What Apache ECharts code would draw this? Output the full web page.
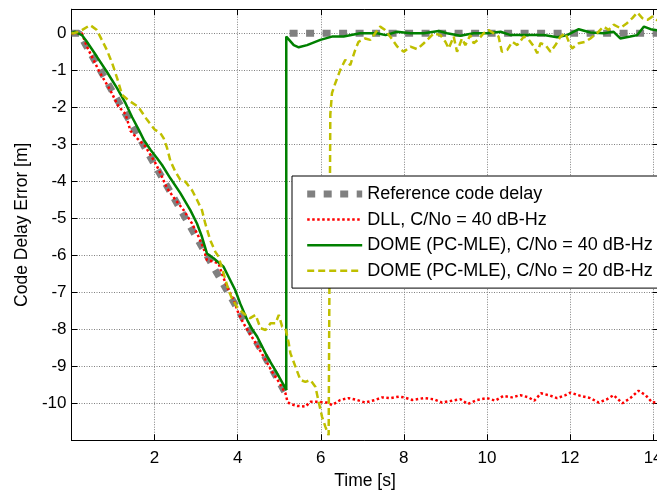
<!DOCTYPE html>
<html>
<head>
<meta charset="utf-8">
<script src="https://cdn.jsdelivr.net/npm/echarts@6/dist/echarts.min.js"></script>
<style>
  html, body { margin: 0; padding: 0; background: #fff; }
  #chart { width: 657px; height: 490px; }
</style>
</head>
<body>
<div id="chart"></div>
<script>
// Series names (legend order)
const seriesNames = [
  'Reference code delay',
  'DLL, C/No = 40 dB-Hz',
  'DOME (PC-MLE), C/No = 40 dB-Hz',
  'DOME (PC-MLE), C/No = 20 dB-Hz'
];

// Reference code delay [m] vs time [s]; null splits the ramp from the reset
const refTime  = [0, 0.18, 0.5, 1.0, 1.5, 2.0, 2.5, 3.0, 3.5, 4.0, 4.5, 5.15, 5.2, 5.25, 14.15];
const refDelay = [0, 0, -0.62, -1.6, -2.56, -3.55, -4.52, -5.5, -6.48, -7.45, -8.43, -9.72, null, 0, 0];

// DLL, C/No = 40 dB-Hz
const dllTime = [0, 0.25, 0.37, 0.69, 0.93, 1.13, 1.3, 1.42, 1.58, 1.78, 2.02, 2.14, 2.30, 2.50, 2.70, 2.90,
  3.06, 3.18, 3.26, 3.42, 3.54, 3.62, 3.74, 3.9, 4.02, 4.14, 4.26, 4.46, 4.67, 4.83, 4.99, 5.15, 5.2,
  5.27, 5.43, 5.63, 5.75, 5.95, 6.15, 6.27, 6.47, 6.67, 6.87, 7.07, 7.31, 7.48, 7.68, 7.88, 8.0, 8.2,
  8.48, 8.72, 8.92, 9.16, 9.36, 9.54, 9.76, 10.0, 10.2, 10.4, 10.6, 10.8, 11.0, 11.14, 11.3, 11.49,
  11.69, 11.89, 12.01, 12.25, 12.49, 12.69, 12.89, 13.05, 13.26, 13.45, 13.65, 13.82, 13.98, 14.15];
const dllDelay = [0, 0, -0.36, -1.08, -1.53, -1.98, -2.18, -2.64, -2.84, -3.06, -3.51, -3.78, -4.19, -4.5, -4.78, -5.14,
  -5.5, -5.81, -6.13, -6.17, -6.22, -6.49, -6.85, -7.2, -7.57, -7.84, -8.06, -8.42, -8.83, -9.15, -9.42, -9.73, -9.96,
  -10.02, -10.07, -10.09, -9.96, -9.96, -9.98, -10.05, -9.91, -9.86, -9.91, -9.98, -9.91, -9.84, -9.86, -9.82, -9.84, -9.91,
  -9.86, -9.89, -9.98, -9.93, -9.89, -10.02, -9.91, -9.86, -9.93, -9.8, -9.84, -9.78, -9.84, -9.93, -9.73, -9.78,
  -9.86, -9.78, -9.71, -9.8, -9.86, -9.98, -9.89, -9.78, -10.0, -9.86, -9.66, -9.78, -9.98, -9.96];

// DOME (PC-MLE), C/No = 40 dB-Hz
const dome40Time = [0, 0.09, 0.25, 0.37, 0.61, 0.85, 1.1, 1.3, 1.46, 1.62, 1.74, 1.9, 2.06, 2.18, 2.38, 2.62,
  2.86, 3.02, 3.14, 3.26, 3.42, 3.66, 3.78, 3.94, 4.06, 4.23, 4.35, 4.47, 4.71, 4.95, 5.17,
  5.17, 5.35, 5.47, 5.67, 5.99, 6.27, 6.55, 6.95, 7.36, 7.56, 7.84, 8.16, 8.48, 8.84, 9.04, 9.36,
  9.68, 10.0, 10.33, 10.57, 10.97, 11.37, 11.69, 11.93, 12.21, 12.49, 12.81, 13.05, 13.21, 13.45,
  13.62, 13.78, 13.94, 14.15];
const dome40Delay = [0, 0.04, -0.05, -0.23, -0.63, -1.04, -1.49, -1.89, -2.27, -2.61, -2.88, -3.15, -3.38, -3.56, -3.92, -4.32,
  -4.78, -5.14, -5.5, -5.95, -6.08, -6.31, -6.58, -6.94, -7.3, -7.75, -8.0, -8.2, -8.74, -9.19, -9.64,
  -0.09, -0.32, -0.38, -0.32, -0.18, -0.09, -0.09, 0, 0, -0.05, 0.04, 0, 0, 0.06, 0, -0.07,
  0, 0, 0.04, -0.05, -0.05, -0.05, -0.11, -0.05, 0.11, 0.02, 0, 0.04, -0.14, -0.09,
  -0.05, 0.18, 0.11, 0.07];

// DOME (PC-MLE), C/No = 20 dB-Hz
const dome20Time = [0, 0.05, 0.2, 0.45, 0.61, 0.73, 0.85, 0.98, 1.1, 1.22, 1.38, 1.6, 1.82, 2.0, 2.14, 2.22,
  2.3, 2.38, 2.5, 2.62, 2.74, 2.9, 3.02, 3.14, 3.22, 3.34, 3.46, 3.54, 3.66, 3.78, 3.86, 3.98,
  4.14, 4.3, 4.43, 4.55, 4.67, 4.79, 4.91, 4.99, 5.07, 5.15, 5.23, 5.27, 5.39, 5.51, 5.63, 5.75,
  5.87, 5.95, 6.03, 6.11, 6.19, 6.21, 6.23, 6.27, 6.35, 6.47, 6.59, 6.71, 6.83, 6.91, 7.07, 7.19,
  7.31, 7.43, 7.55, 7.67, 7.84, 8.0, 8.16, 8.32, 8.48, 8.6, 8.72, 8.88, 9.0, 9.08, 9.2, 9.28,
  9.4, 9.48, 9.6, 9.68, 9.8, 9.92, 10.04, 10.16, 10.28, 10.36, 10.49, 10.61, 10.73, 10.89, 11.01,
  11.13, 11.21, 11.29, 11.41, 11.53, 11.65, 11.77, 11.89, 11.97, 12.05, 12.21, 12.37, 12.49, 12.65,
  12.81, 12.93, 13.05, 13.21, 13.37, 13.5, 13.62, 13.74, 13.86, 13.98, 14.15];
const dome20Delay = [0, 0, 0.05, 0.22, 0.09, -0.18, -0.45, -0.81, -1.22, -1.67, -1.82, -1.98, -2.34, -2.6, -2.7, -2.84,
  -3.1, -3.45, -3.74, -3.96, -4.01, -4.24, -4.5, -4.78, -5.14, -5.59, -5.9, -6.04, -6.49, -6.94, -7.16, -7.39,
  -7.57, -7.7, -7.61, -7.97, -8.02, -7.84, -7.84, -7.61, -7.93, -7.97, -8.38, -8.65, -9.01, -9.37, -9.42, -9.37,
  -9.55, -9.96, -10.36, -10.63, -10.86, -10.9, -2.2, -1.62, -1.35, -0.99, -0.72, -0.86, -0.45, -0.23, -0.14, -0.18,
  0, 0.18, 0.09, -0.09, -0.36, -0.5, -0.36, -0.43, -0.27, -0.14, 0, -0.05, -0.23, -0.41, -0.09, -0.5,
  -0.14, -0.32, -0.05, -0.27, -0.16, 0, 0.09, 0, -0.09, -0.5, -0.45, -0.23, -0.32, -0.09, -0.18,
  -0.36, -0.54, -0.27, -0.32, -0.5, -0.32, -0.09, 0, -0.23, -0.41, -0.27, -0.23, -0.14, 0,
  0.18, 0.09, 0.23, 0.14, 0.27, 0.41, 0.56, 0.41, 0.36, 0.45, 0.31];

// Axis ticks
const xTicks = [2, 4, 6, 8, 10, 12, 14];
const yTicks = [0, -1, -2, -3, -4, -5, -6, -7, -8, -9, -10];

const zip = (t, v) => t.map((x, i) => [x, v[i]]);

const FONT = "'Liberation Sans', Arial, sans-serif";
const X_MIN = 0, X_MAX = 14.13, Y_MIN = -11, Y_MAX = 0.65;

const chart = echarts.init(document.getElementById('chart'), null, { renderer: 'canvas' });

const gridLine = { show: true, lineStyle: { color: '#808080', type: [1, 1.5], width: 1 } };

chart.setOption({
  animation: false,
  backgroundColor: '#fff',
  grid: {
    left: 71.5, top: 9.2, width: 587, height: 431.1,
    containLabel: false, outerBoundsMode: 'none'
  },
  legend: {
    orient: 'vertical',
    left: 292,
    top: 176,
    selectedMode: false,
    data: seriesNames,
    itemWidth: 55,
    itemHeight: 14,
    itemGap: 7.6,
    padding: [9, 40, 8.3, 11.7],
    backgroundColor: '#fff',
    borderColor: '#000',
    borderWidth: 1,
    borderRadius: 0,
    itemStyle: { opacity: 0 },
    lineStyle: { width: 'inherit' },
    textStyle: { fontFamily: FONT, fontSize: 18, lineHeight: 18, color: '#000' }
  },
  xAxis: [{
    type: 'value', min: X_MIN, max: X_MAX, interval: 2,
    name: 'Time [s]', nameLocation: 'middle', nameGap: 31,
    nameTextStyle: { fontFamily: FONT, fontSize: 17.5, color: '#000' },
    axisLine: { show: true, onZero: false, lineStyle: { color: '#000', width: 1 } },
    axisTick: { show: true, inside: true, length: 6, lineStyle: { color: '#000' } },
    axisLabel: {
      fontFamily: FONT, fontSize: 17, color: '#000', margin: 10,
      formatter: v => (xTicks.indexOf(v) >= 0 ? String(v) : '')
    },
    splitLine: gridLine
  }, {
    type: 'value', position: 'top', min: X_MIN, max: X_MAX, interval: 2,
    axisLine: { show: true, onZero: false, lineStyle: { color: '#000', width: 1 } },
    axisTick: { show: true, inside: true, length: 6, lineStyle: { color: '#000' } },
    axisLabel: { show: false },
    splitLine: { show: false }
  }],
  yAxis: [{
    type: 'value', min: Y_MIN, max: Y_MAX, interval: 1,
    name: 'Code Delay Error [m]', nameLocation: 'middle', nameGap: 40,
    nameTextStyle: { fontFamily: FONT, fontSize: 17.5, color: '#000' },
    axisLine: { show: true, onZero: false, lineStyle: { color: '#000', width: 1 } },
    axisTick: { show: true, inside: true, length: 6, lineStyle: { color: '#000' } },
    axisLabel: {
      fontFamily: FONT, fontSize: 17, color: '#000', margin: 5,
      formatter: v => (yTicks.indexOf(v) >= 0 ? String(v) : '')
    },
    splitLine: gridLine
  }, {
    type: 'value', position: 'right', min: Y_MIN, max: Y_MAX, interval: 1,
    axisLine: { show: true, onZero: false, lineStyle: { color: '#000', width: 1 } },
    axisTick: { show: true, inside: true, length: 6 },
    axisLabel: { show: false },
    splitLine: { show: false }
  }],
  series: [{
    name: seriesNames[0], type: 'line', data: zip(refTime, refDelay),
    showSymbol: false, symbol: 'none', connectNulls: false,
    lineStyle: { color: '#808080', width: 7, type: [8, 8.5], cap: 'butt' },
    itemStyle: { color: '#808080' }
  }, {
    name: seriesNames[1], type: 'line', data: zip(dllTime, dllDelay),
    showSymbol: false, symbol: 'none',
    lineStyle: { color: '#ff0000', width: 2.5, type: [2.5, 2.5], cap: 'butt' },
    itemStyle: { color: '#ff0000' }
  }, {
    name: seriesNames[2], type: 'line', data: zip(dome40Time, dome40Delay),
    showSymbol: false, symbol: 'none',
    lineStyle: { color: '#008000', width: 2.5, type: 'solid' },
    itemStyle: { color: '#008000' }
  }, {
    name: seriesNames[3], type: 'line', data: zip(dome20Time, dome20Delay),
    showSymbol: false, symbol: 'none',
    lineStyle: { color: '#bfbf00', width: 2.5, type: [7, 4], cap: 'butt' },
    itemStyle: { color: '#bfbf00' }
  }]
});
</script>
</body>
</html>
